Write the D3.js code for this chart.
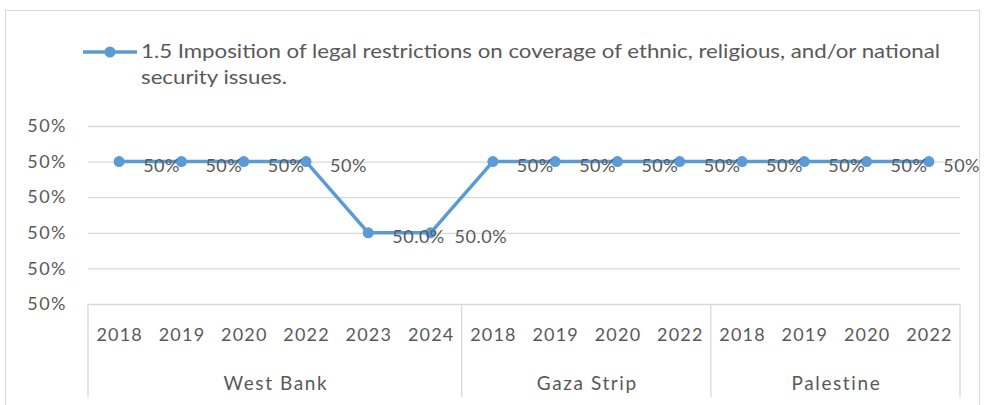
<!DOCTYPE html>
<html><head><meta charset="utf-8">
<script src="https://cdn.jsdelivr.net/npm/d3@7"></script>
<style>
html,body{margin:0;padding:0;background:#fff;}
svg text{font-family:Lato,"Open Sans",sans-serif;fill:#595959;}
</style></head>
<body><svg id="c" width="985" height="405"></svg>
<script>
const categories = ["2018","2019","2020","2022","2023","2024","2018","2019","2020","2022","2018","2019","2020","2022"];
const groups = ["West Bank","Gaza Strip","Palestine"];
const groupSizes = [6,4,4];
const values = [0.5004,0.5004,0.5004,0.5004,0.5000,0.5000,0.5004,0.5004,0.5004,0.5004,0.5004,0.5004,0.5004,0.5004];
const labelDecimals = [0,0,0,0,1,1,0,0,0,0,0,0,0,0];
const yTicks = [0.4996,0.4998,0.5000,0.5002,0.5004,0.5006];
const seriesLine1 = "1.5 Imposition of legal restrictions on coverage of ethnic, religious, and/or national";
const seriesLine2 = "security issues.";

(function(){
const svg = d3.select("#c");
const W = 985, H = 405;
const pL = 88, pR = 960, pT = 126, pB = 304;
const blue = "#5B9BD5", grid = "#d9d9d9";

svg.append("rect").attr("x",5.5).attr("y",10.5).attr("width",W-11).attr("height",H).attr("fill","#fff").attr("stroke",grid);

const x = d3.scaleBand().domain(d3.range(categories.length)).range([pL,pR]);
const y = d3.scaleLinear().domain([yTicks[0], yTicks[yTicks.length-1]]).range([pB, pT]);

const gAx = svg.append("g").attr("transform",`translate(${pL},0)`)
  .call(d3.axisLeft(y).tickValues(yTicks).tickSize(-(pR-pL)).tickPadding(21).tickFormat(d3.format(".0%")));
gAx.select(".domain").remove();
gAx.selectAll(".tick line").attr("stroke",grid).attr("stroke-width",1.3);
gAx.selectAll(".tick text").attr("font-size",18).attr("font-family","Lato").attr("letter-spacing",1.5).style("fill","#595959");

const bounds = [0];
groupSizes.forEach(s=>bounds.push(bounds[bounds.length-1]+s));
bounds.forEach(b=>{
  const xx = b < categories.length ? x(b) : pR;
  svg.append("line").attr("x1",xx).attr("x2",xx).attr("y1",pB).attr("y2",397).attr("stroke",grid).attr("stroke-width",1.3);
});
svg.selectAll(".yr").data(categories).join("text")
  .attr("x",(d,i)=>x(i)+x.bandwidth()/2+0.6).attr("y",341)
  .attr("text-anchor","middle").attr("font-size",18).attr("letter-spacing",1.2).text(d=>d);
groups.forEach((g,i)=>{
  const x0 = x(bounds[i]);
  const x1 = bounds[i+1] < categories.length ? x(bounds[i+1]) : pR;
  svg.append("text").attr("x",(x0+x1)/2+1).attr("y",390).attr("text-anchor","middle").attr("font-size",19).attr("letter-spacing",1.6).text(g);
});

const cx = i=>x(i)+x.bandwidth()/2;
svg.append("path").datum(values)
  .attr("d",d3.line().x((d,i)=>cx(i)).y(d=>y(d)))
  .attr("fill","none").attr("stroke",blue).attr("stroke-width",3.5).attr("stroke-linejoin","round");
svg.selectAll(".pt").data(values).join("circle")
  .attr("cx",(d,i)=>cx(i)).attr("cy",d=>y(d)).attr("r",5.5).attr("fill",blue);

svg.selectAll(".lbl").data(values).join("text")
  .attr("font-size",18).attr("letter-spacing",0.5)
  .text((d,i)=>d3.format("."+labelDecimals[i]+"%")(d))
  .each(function(d,i){
    const w = this.getComputedTextLength();
    const xx = Math.min(cx(i)+24, 980-w);
    d3.select(this).attr("x",xx).attr("y",y(d)+10);
  });

svg.append("line").attr("x1",83).attr("x2",137).attr("y1",52).attr("y2",52).attr("stroke",blue).attr("stroke-width",3.5);
svg.append("circle").attr("cx",110).attr("cy",52).attr("r",5.5).attr("fill",blue);
svg.append("text").attr("x",141).attr("y",58).attr("font-size",20).attr("textLength",799).attr("lengthAdjust","spacingAndGlyphs").text(seriesLine1);
svg.append("text").attr("x",141).attr("y",84).attr("font-size",20).attr("textLength",146).attr("lengthAdjust","spacingAndGlyphs").text(seriesLine2);
})();
</script></body></html>
